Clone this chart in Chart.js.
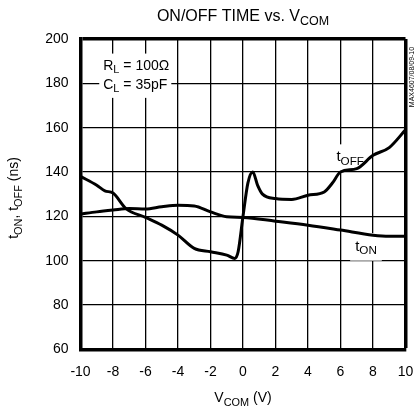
<!DOCTYPE html>
<html>
<head>
<meta charset="utf-8">
<script src="https://cdn.jsdelivr.net/npm/chart.js@4.4.1/dist/chart.umd.min.js"></script>
<style>
  html, body { margin: 0; padding: 0; background: #fff; }
  #wrap { width: 416px; height: 408px; }
</style>
</head>
<body>
<div id="wrap"><canvas id="chart"></canvas></div>
<script>
// tON curve
var vcomOn = [-10, -9, -8, -7, -6, -5, -4, -3, -2, -1, 0, 2, 4, 6, 8, 9, 10];
var tOn    = [121, 122, 122.8, 123.5, 123.3, 124.3, 125, 124.7, 122, 119.8, 119.5, 117.8, 116, 113.8, 111.5, 111, 111];

// tOFF curve
var vcomOff = [-10, -9, -8.5, -8, -7.2, -6, -5, -4, -3, -2, -1, -0.5, -0.3, 0, 0.3, 0.6, 0.9, 1.2, 2, 3, 4, 5, 5.5, 6, 7, 8, 9, 10];
var tOff    = [138, 134, 131.5, 130.5, 123.5, 119.5, 116, 111.5, 105.5, 104, 102.5, 101, 104, 120, 135, 140, 134, 130, 128, 127.6, 129.5, 131, 135, 140, 141.5, 147.5, 151, 159];

var xTicks = [-10, -8, -6, -4, -2, 0, 2, 4, 6, 8, 10];
var yTicks = [60, 80, 100, 120, 140, 160, 180, 200];

var FONT = "Liberation Sans, Arial, Helvetica, sans-serif";

function toPoints(xs, ys) {
    var pts = [];
    for (var i = 0; i < xs.length; i++) pts.push({ x: xs[i], y: ys[i] });
    return pts;
}

// draw text made of normal and subscript pieces, returns width
function partsWidth(ctx, parts, size) {
    var w = 0;
    parts.forEach(function (p) {
        ctx.font = (p[1] ? size * 0.78 : size) + "px " + FONT;
        w += ctx.measureText(p[0]).width;
    });
    return w;
}
function drawParts(ctx, parts, x, y, size) {
    parts.forEach(function (p) {
        ctx.font = (p[1] ? size * 0.78 : size) + "px " + FONT;
        ctx.fillText(p[0], x, p[1] ? y + size * 0.25 : y);
        x += ctx.measureText(p[0]).width;
    });
}
function labelAt(ctx, chart, vx, vy, parts, size, pad) {
    var xs = chart.scales.x, ys = chart.scales.y;
    var x = xs.getPixelForValue(vx), y = ys.getPixelForValue(vy);
    var w = partsWidth(ctx, parts, size);
    ctx.fillStyle = "#fff";
    ctx.fillRect(x - pad, y - size - pad * 0.5, w + pad * 2, size * 1.5 + pad);
    ctx.fillStyle = "#000";
    ctx.textBaseline = "alphabetic";
    ctx.textAlign = "left";
    drawParts(ctx, parts, x, y, size);
}

var textPlugin = {
    id: "texts",
    beforeDatasetsDraw: function (chart) {
        var ctx = chart.ctx;
        ctx.save();
        labelAt(ctx, chart, -8.6, 186.2, [["R", 0], ["L", 1], [" = 100\u03A9", 0]], 14, 4);
        labelAt(ctx, chart, -8.6, 177.5, [["C", 0], ["L", 1], [" = 35pF", 0]], 14, 4);
        labelAt(ctx, chart, 5.75, 144.8, [["t", 0], ["OFF", 1]], 15, 4);
        labelAt(ctx, chart, 6.9, 104.5, [["t", 0], ["ON", 1]], 15, 5);
        ctx.restore();
    },
    afterDraw: function (chart) {
        var ctx = chart.ctx;
        ctx.save();
        ctx.fillStyle = "#000";
        ctx.textBaseline = "alphabetic";
        // title
        var tp = [["ON/OFF TIME vs. V", 0], ["COM", 1]];
        var w = partsWidth(ctx, tp, 16);
        drawParts(ctx, tp, 243 - w / 2, 21, 16);
        // x axis title
        var xp = [["V", 0], ["COM", 1], [" (V)", 0]];
        w = partsWidth(ctx, xp, 14);
        drawParts(ctx, xp, 243 - w / 2, 402, 14);
        // y axis title
        var yp = [["t", 0], ["ON", 1], [", t", 0], ["OFF", 1], [" (ns)", 0]];
        w = partsWidth(ctx, yp, 14);
        ctx.translate(18, 198);
        ctx.rotate(-Math.PI / 2);
        drawParts(ctx, yp, -w / 2, 0, 14);
        ctx.restore();
        // part code on the right edge
        ctx.save();
        ctx.fillStyle = "#000";
        ctx.font = "7px " + FONT;
        ctx.textAlign = "center";
        ctx.translate(414, 77);
        ctx.rotate(-Math.PI / 2);
        ctx.fillText("MAX4607/08/09-10", 0, 0);
        ctx.restore();
    }
};

new Chart(document.getElementById("chart").getContext("2d"), {
    type: "scatter",
    data: {
        datasets: [{
            label: "tON",
            data: toPoints(vcomOn, tOn),
            showLine: true,
            borderColor: "#000",
            borderWidth: 3,
            pointRadius: 0,
            cubicInterpolationMode: "monotone"
        }, {
            label: "tOFF",
            data: toPoints(vcomOff, tOff),
            showLine: true,
            borderColor: "#000",
            borderWidth: 3,
            pointRadius: 0,
            cubicInterpolationMode: "monotone"
        }]
    },
    options: {
        responsive: true,
        maintainAspectRatio: false,
        animation: false,
        layout: { padding: { top: 39, right: 10.5, left: 0, bottom: 0 } },
        plugins: {
            legend: { display: false },
            tooltip: { enabled: false }
        },
        scales: {
            x: {
                type: "linear",
                min: -10,
                max: 10,
                afterBuildTicks: function (s) { s.ticks = xTicks.map(function (v) { return { value: v }; }); },
                afterFit: function (s) { s.height = 58.7; s.paddingLeft = 0; s.paddingRight = 0; },
                grid: {
                    color: "#000",
                    lineWidth: function (c) { return (c.tick && c.tick.value === 10) ? 3.5 : 1.3; },
                    drawTicks: false
                },
                border: { color: "#000", width: 3.5 },
                ticks: { color: "#000", font: { family: FONT, size: 14 }, padding: 14 }
            },
            y: {
                min: 60,
                max: 200,
                afterBuildTicks: function (s) { s.ticks = yTicks.map(function (v) { return { value: v }; }); },
                afterFit: function (s) { s.width = 80.5; s.paddingTop = 0; s.paddingBottom = 0; },
                grid: {
                    color: "#000",
                    lineWidth: function (c) { return (c.tick && c.tick.value === 200) ? 3.5 : 1.3; },
                    drawTicks: false
                },
                border: { color: "#000", width: 3.5 },
                ticks: { color: "#000", font: { family: FONT, size: 14 }, padding: 12 }
            }
        }
    },
    plugins: [textPlugin]
});
</script>
</body>
</html>
